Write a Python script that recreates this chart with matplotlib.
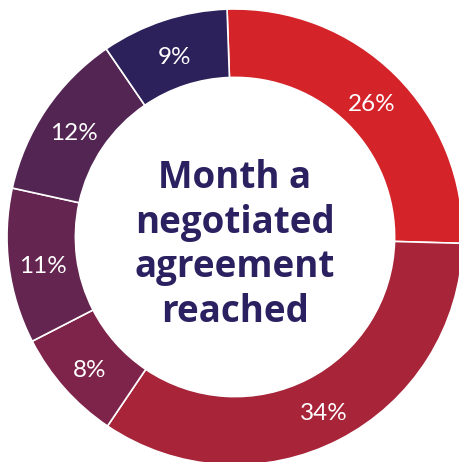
import matplotlib
matplotlib.use("Agg")
import matplotlib.pyplot as plt
import numpy as np

labels = ["26%", "34%", "8%", "11%", "12%", "9%"]
values = [26, 34, 8, 11, 12, 9]
colors = ["#d4242a", "#a72439", "#7e234a", "#642650", "#532553", "#2c215b"]
center_title = "Month a\nnegotiated\nagreement\nreached"

W, H = 459, 462
fig = plt.figure(figsize=(W / 100, H / 100), dpi=100)
cx, cy, R = 235, 237, 228
ax = fig.add_axes([(cx - R) / W, (H - cy - R) / H, 2 * R / W, 2 * R / H])
ax.axis("off")

ring = 0.30
start = 92
wedges, _ = ax.pie(values, colors=colors, startangle=start, counterclock=False,
                   radius=1.0,
                   wedgeprops=dict(width=ring, edgecolor="white", linewidth=1.2))
ax.set_xlim(-1, 1)
ax.set_ylim(-1, 1)

total = sum(values)
ang = start
for v, lab in zip(values, labels):
    mid = np.deg2rad(ang - v / total * 360 / 2)
    ang -= v / total * 360
    rr = 1 - ring / 2
    ax.text(rr * np.cos(mid), rr * np.sin(mid) - 0.02, lab, color="white",
            ha="center", va="center", fontsize=17.5, family="Lato",
            fontweight="normal")

ax.text(0, -0.035, center_title, ha="center", va="center", color="#2b2160",
        fontsize=26.5, fontweight="bold", family="Open Sans", linespacing=1.22)

fig.savefig("out.png", dpi=100)
